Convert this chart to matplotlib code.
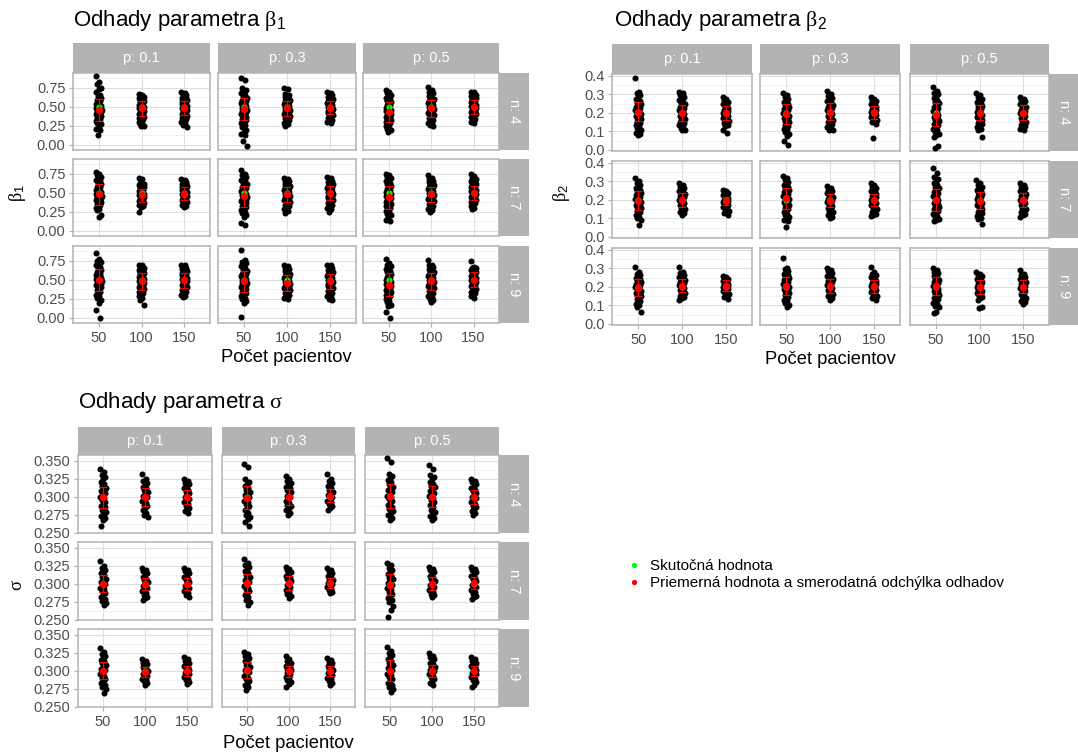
import numpy as np
import matplotlib
matplotlib.use("Agg")
import matplotlib.pyplot as plt
from matplotlib.lines import Line2D
from matplotlib.ticker import FormatStrFormatter

plt.rcParams['font.family'] = ['Liberation Sans', 'DejaVu Sans']
plt.rcParams['mathtext.fontset'] = 'custom'
plt.rcParams['mathtext.rm'] = 'Liberation Serif'
plt.rcParams['mathtext.it'] = 'Liberation Serif:italic'
plt.rcParams['mathtext.sf'] = 'Liberation Sans'

# ---------------------------------------------------------------- data
sizes = ["50", "100", "150"]            # number of patients (x categories)
prob_labels = ["p: 0.1", "p: 0.3", "p: 0.5"]
n_labels = ["n: 4", "n: 7", "n: 9"]

beta1_true = 0.5
beta2_true = 0.2
sigma_true = 0.3

# beta_1 estimates, one tuple per (n, p) panel: (N=50, N=100, N=150)
b1_n4_p1 = ([0.904, 0.83, 0.80, 0.75, 0.73, 0.69, 0.66, 0.64, 0.62, 0.60, 0.585, 0.57, 0.555, 0.54, 0.53, 0.52, 0.51, 0.50, 0.49, 0.48, 0.47, 0.46, 0.45, 0.44, 0.43, 0.42, 0.41, 0.40, 0.39, 0.38, 0.37, 0.355, 0.34, 0.325, 0.31, 0.295, 0.28, 0.27, 0.24, 0.21, 0.19, 0.12],
            [0.67, 0.66, 0.65, 0.63, 0.62, 0.61, 0.60, 0.59, 0.58, 0.57, 0.56, 0.55, 0.54, 0.53, 0.52, 0.51, 0.50, 0.49, 0.48, 0.47, 0.46, 0.45, 0.44, 0.43, 0.42, 0.41, 0.40, 0.39, 0.38, 0.37, 0.36, 0.35, 0.34, 0.32, 0.30, 0.28, 0.27, 0.25, 0.25],
            [0.69, 0.68, 0.66, 0.65, 0.64, 0.62, 0.61, 0.60, 0.59, 0.58, 0.57, 0.56, 0.55, 0.54, 0.53, 0.52, 0.51, 0.50, 0.49, 0.48, 0.47, 0.46, 0.45, 0.44, 0.43, 0.42, 0.41, 0.40, 0.39, 0.38, 0.37, 0.35, 0.34, 0.32, 0.30, 0.28, 0.26, 0.23])
b1_n4_p3 = ([0.877, 0.85, 0.745, 0.72, 0.70, 0.68, 0.66, 0.64, 0.62, 0.60, 0.59, 0.58, 0.56, 0.55, 0.54, 0.52, 0.51, 0.50, 0.49, 0.48, 0.47, 0.46, 0.45, 0.44, 0.43, 0.42, 0.41, 0.40, 0.38, 0.37, 0.36, 0.34, 0.32, 0.30, 0.28, 0.26, 0.23, 0.19, 0.16, 0.14, 0.12, 0.05, -0.02],
            [0.75, 0.73, 0.67, 0.66, 0.64, 0.63, 0.62, 0.60, 0.59, 0.58, 0.57, 0.56, 0.55, 0.54, 0.53, 0.52, 0.51, 0.50, 0.49, 0.48, 0.47, 0.46, 0.45, 0.44, 0.43, 0.42, 0.41, 0.40, 0.39, 0.38, 0.37, 0.35, 0.33, 0.31, 0.29, 0.27, 0.25],
            [0.69, 0.68, 0.67, 0.65, 0.64, 0.63, 0.62, 0.61, 0.60, 0.59, 0.58, 0.57, 0.56, 0.55, 0.54, 0.53, 0.52, 0.51, 0.50, 0.49, 0.48, 0.47, 0.46, 0.45, 0.44, 0.43, 0.42, 0.41, 0.40, 0.39, 0.37, 0.35, 0.33, 0.31, 0.30, 0.28])
b1_n4_p5 = ([0.72, 0.70, 0.68, 0.66, 0.64, 0.62, 0.60, 0.58, 0.56, 0.54, 0.53, 0.52, 0.50, 0.49, 0.48, 0.47, 0.46, 0.45, 0.44, 0.43, 0.42, 0.41, 0.40, 0.39, 0.38, 0.37, 0.36, 0.35, 0.34, 0.33, 0.32, 0.30, 0.28, 0.26, 0.24, 0.22, 0.20, 0.19, 0.17],
            [0.76, 0.72, 0.70, 0.68, 0.66, 0.64, 0.62, 0.61, 0.60, 0.59, 0.58, 0.57, 0.56, 0.55, 0.54, 0.53, 0.52, 0.51, 0.50, 0.49, 0.48, 0.47, 0.46, 0.45, 0.44, 0.43, 0.42, 0.41, 0.40, 0.39, 0.37, 0.35, 0.33, 0.31, 0.29, 0.27, 0.26, 0.24],
            [0.70, 0.69, 0.68, 0.66, 0.65, 0.64, 0.63, 0.62, 0.61, 0.60, 0.59, 0.58, 0.57, 0.56, 0.55, 0.54, 0.53, 0.52, 0.51, 0.50, 0.49, 0.48, 0.47, 0.46, 0.45, 0.44, 0.43, 0.42, 0.41, 0.40, 0.38, 0.36, 0.34, 0.32, 0.30, 0.28])
b1_n7_p1 = ([0.776, 0.75, 0.73, 0.71, 0.69, 0.67, 0.65, 0.63, 0.61, 0.60, 0.58, 0.57, 0.56, 0.54, 0.53, 0.52, 0.51, 0.50, 0.49, 0.48, 0.47, 0.46, 0.45, 0.44, 0.43, 0.42, 0.41, 0.40, 0.39, 0.38, 0.37, 0.35, 0.34, 0.32, 0.30, 0.28, 0.27, 0.20, 0.185],
            [0.70, 0.68, 0.63, 0.62, 0.61, 0.60, 0.59, 0.58, 0.57, 0.56, 0.55, 0.54, 0.53, 0.52, 0.51, 0.50, 0.49, 0.48, 0.47, 0.46, 0.45, 0.44, 0.43, 0.42, 0.41, 0.40, 0.39, 0.38, 0.37, 0.36, 0.35, 0.34, 0.33, 0.31, 0.24],
            [0.68, 0.67, 0.66, 0.64, 0.63, 0.62, 0.61, 0.60, 0.59, 0.58, 0.57, 0.56, 0.55, 0.54, 0.53, 0.52, 0.51, 0.50, 0.49, 0.48, 0.47, 0.46, 0.45, 0.44, 0.43, 0.42, 0.41, 0.40, 0.39, 0.38, 0.36, 0.34, 0.32, 0.31])
b1_n7_p3 = ([0.80, 0.75, 0.73, 0.71, 0.69, 0.67, 0.65, 0.63, 0.61, 0.59, 0.57, 0.56, 0.54, 0.53, 0.51, 0.50, 0.49, 0.48, 0.47, 0.46, 0.45, 0.44, 0.43, 0.42, 0.41, 0.40, 0.39, 0.38, 0.37, 0.36, 0.34, 0.33, 0.31, 0.29, 0.27, 0.25, 0.23, 0.21, 0.18, 0.10, 0.075],
            [0.69, 0.68, 0.66, 0.65, 0.64, 0.62, 0.61, 0.60, 0.59, 0.58, 0.57, 0.56, 0.55, 0.54, 0.53, 0.52, 0.51, 0.50, 0.49, 0.48, 0.47, 0.46, 0.45, 0.44, 0.43, 0.42, 0.41, 0.40, 0.39, 0.38, 0.36, 0.34, 0.32, 0.30, 0.28, 0.26, 0.23],
            [0.71, 0.69, 0.68, 0.66, 0.65, 0.64, 0.63, 0.62, 0.61, 0.60, 0.59, 0.58, 0.57, 0.56, 0.55, 0.54, 0.53, 0.52, 0.51, 0.50, 0.49, 0.48, 0.47, 0.46, 0.45, 0.44, 0.43, 0.42, 0.41, 0.40, 0.38, 0.36, 0.34, 0.32, 0.30, 0.28, 0.25])
b1_n7_p5 = ([0.75, 0.73, 0.71, 0.69, 0.67, 0.65, 0.63, 0.61, 0.59, 0.57, 0.55, 0.54, 0.52, 0.51, 0.50, 0.49, 0.48, 0.47, 0.46, 0.45, 0.44, 0.43, 0.42, 0.41, 0.40, 0.39, 0.38, 0.37, 0.36, 0.35, 0.33, 0.32, 0.30, 0.28, 0.26, 0.24, 0.22, 0.20, 0.18, 0.14, 0.12],
            [0.73, 0.69, 0.68, 0.66, 0.65, 0.64, 0.62, 0.61, 0.60, 0.59, 0.58, 0.57, 0.56, 0.55, 0.54, 0.53, 0.52, 0.51, 0.50, 0.49, 0.48, 0.47, 0.46, 0.45, 0.44, 0.43, 0.42, 0.41, 0.40, 0.39, 0.37, 0.35, 0.33, 0.31, 0.29, 0.27, 0.25],
            [0.75, 0.72, 0.69, 0.68, 0.67, 0.65, 0.64, 0.63, 0.62, 0.61, 0.60, 0.59, 0.58, 0.57, 0.56, 0.55, 0.54, 0.53, 0.52, 0.51, 0.50, 0.49, 0.48, 0.47, 0.46, 0.45, 0.44, 0.43, 0.42, 0.41, 0.40, 0.38, 0.36, 0.34, 0.32, 0.30, 0.29])
b1_n9_p1 = ([0.853, 0.77, 0.75, 0.73, 0.71, 0.69, 0.67, 0.65, 0.63, 0.61, 0.60, 0.58, 0.57, 0.56, 0.55, 0.54, 0.53, 0.52, 0.51, 0.50, 0.49, 0.48, 0.47, 0.46, 0.45, 0.44, 0.43, 0.42, 0.41, 0.40, 0.38, 0.36, 0.34, 0.32, 0.30, 0.28, 0.26, 0.23, 0.19, 0.10, 0.0],
            [0.70, 0.69, 0.67, 0.66, 0.64, 0.63, 0.62, 0.60, 0.59, 0.58, 0.57, 0.56, 0.55, 0.54, 0.53, 0.52, 0.51, 0.50, 0.49, 0.48, 0.47, 0.46, 0.45, 0.44, 0.43, 0.42, 0.41, 0.40, 0.39, 0.38, 0.36, 0.34, 0.32, 0.30, 0.28, 0.26, 0.23, 0.16],
            [0.70, 0.69, 0.67, 0.66, 0.65, 0.64, 0.63, 0.62, 0.61, 0.60, 0.59, 0.58, 0.57, 0.56, 0.55, 0.54, 0.53, 0.52, 0.51, 0.50, 0.49, 0.48, 0.47, 0.46, 0.45, 0.44, 0.43, 0.42, 0.41, 0.40, 0.38, 0.36, 0.34, 0.32, 0.30, 0.28, 0.27])
b1_n9_p3 = ([0.895, 0.76, 0.74, 0.72, 0.70, 0.68, 0.66, 0.64, 0.62, 0.60, 0.58, 0.57, 0.56, 0.55, 0.53, 0.52, 0.51, 0.50, 0.49, 0.48, 0.47, 0.46, 0.45, 0.44, 0.43, 0.42, 0.41, 0.40, 0.39, 0.38, 0.36, 0.34, 0.32, 0.30, 0.28, 0.26, 0.24, 0.22, 0.19, 0.01],
            [0.70, 0.68, 0.66, 0.64, 0.63, 0.61, 0.60, 0.58, 0.57, 0.56, 0.55, 0.54, 0.53, 0.52, 0.51, 0.50, 0.49, 0.48, 0.47, 0.46, 0.45, 0.44, 0.43, 0.42, 0.41, 0.40, 0.39, 0.38, 0.37, 0.36, 0.34, 0.32, 0.30, 0.28, 0.26, 0.24],
            [0.70, 0.69, 0.67, 0.66, 0.64, 0.63, 0.62, 0.61, 0.60, 0.59, 0.58, 0.57, 0.56, 0.55, 0.54, 0.53, 0.52, 0.51, 0.50, 0.49, 0.48, 0.47, 0.46, 0.45, 0.44, 0.43, 0.42, 0.41, 0.40, 0.39, 0.37, 0.35, 0.33, 0.31, 0.29, 0.27, 0.25, 0.23])
b1_n9_p5 = ([0.776, 0.72, 0.70, 0.68, 0.66, 0.64, 0.62, 0.60, 0.58, 0.56, 0.54, 0.53, 0.51, 0.50, 0.49, 0.48, 0.47, 0.46, 0.45, 0.44, 0.43, 0.42, 0.41, 0.40, 0.39, 0.38, 0.37, 0.36, 0.35, 0.34, 0.32, 0.30, 0.28, 0.26, 0.24, 0.22, 0.20, 0.17, 0.15, 0.08, -0.005],
            [0.76, 0.70, 0.69, 0.67, 0.66, 0.64, 0.63, 0.62, 0.60, 0.59, 0.58, 0.57, 0.56, 0.55, 0.54, 0.53, 0.52, 0.51, 0.50, 0.49, 0.48, 0.47, 0.46, 0.45, 0.44, 0.43, 0.42, 0.41, 0.40, 0.39, 0.37, 0.35, 0.33, 0.31, 0.29, 0.27, 0.25, 0.23, 0.21],
            [0.75, 0.675, 0.66, 0.65, 0.64, 0.63, 0.62, 0.61, 0.60, 0.59, 0.58, 0.57, 0.56, 0.55, 0.54, 0.53, 0.52, 0.51, 0.50, 0.49, 0.48, 0.47, 0.46, 0.45, 0.44, 0.43, 0.42, 0.41, 0.40, 0.38, 0.36, 0.34, 0.32, 0.30, 0.28, 0.26])

# beta_2 estimates
b2_n4_p1 = ([0.389, 0.315, 0.305, 0.295, 0.285, 0.275, 0.265, 0.255, 0.248, 0.241, 0.234, 0.227, 0.22, 0.214, 0.208, 0.202, 0.196, 0.19, 0.184, 0.178, 0.172, 0.166, 0.16, 0.153, 0.146, 0.139, 0.132, 0.124, 0.116, 0.108, 0.10, 0.092, 0.087, 0.078],
            [0.315, 0.305, 0.295, 0.285, 0.276, 0.268, 0.26, 0.253, 0.246, 0.239, 0.232, 0.226, 0.22, 0.214, 0.208, 0.202, 0.196, 0.19, 0.184, 0.178, 0.172, 0.166, 0.16, 0.153, 0.146, 0.139, 0.132, 0.124, 0.116, 0.11, 0.105],
            [0.285, 0.275, 0.267, 0.26, 0.253, 0.246, 0.24, 0.234, 0.228, 0.222, 0.216, 0.21, 0.205, 0.2, 0.195, 0.19, 0.185, 0.18, 0.174, 0.168, 0.162, 0.156, 0.15, 0.143, 0.136, 0.13, 0.105, 0.09])
b2_n4_p3 = ([0.31, 0.294, 0.284, 0.274, 0.265, 0.257, 0.249, 0.241, 0.234, 0.227, 0.22, 0.213, 0.207, 0.201, 0.195, 0.189, 0.183, 0.177, 0.171, 0.165, 0.158, 0.151, 0.144, 0.137, 0.13, 0.122, 0.114, 0.106, 0.097, 0.088, 0.077, 0.05, 0.027],
            [0.32, 0.30, 0.29, 0.281, 0.273, 0.265, 0.258, 0.251, 0.244, 0.237, 0.231, 0.225, 0.219, 0.213, 0.207, 0.201, 0.195, 0.189, 0.183, 0.177, 0.171, 0.164, 0.157, 0.15, 0.142, 0.134, 0.126, 0.118, 0.11, 0.105],
            [0.285, 0.277, 0.27, 0.263, 0.256, 0.25, 0.244, 0.238, 0.232, 0.226, 0.22, 0.215, 0.21, 0.205, 0.2, 0.195, 0.19, 0.185, 0.179, 0.173, 0.167, 0.161, 0.155, 0.148, 0.14, 0.065])
b2_n4_p5 = ([0.34, 0.32, 0.31, 0.30, 0.29, 0.28, 0.27, 0.26, 0.251, 0.242, 0.234, 0.226, 0.218, 0.211, 0.204, 0.197, 0.19, 0.183, 0.176, 0.169, 0.162, 0.155, 0.148, 0.14, 0.132, 0.124, 0.115, 0.106, 0.097, 0.088, 0.079, 0.07, 0.023, 0.012],
            [0.305, 0.295, 0.285, 0.276, 0.268, 0.26, 0.252, 0.245, 0.238, 0.231, 0.225, 0.219, 0.213, 0.207, 0.201, 0.195, 0.189, 0.183, 0.177, 0.171, 0.165, 0.159, 0.152, 0.145, 0.138, 0.13, 0.122, 0.114, 0.105, 0.07],
            [0.285, 0.277, 0.269, 0.262, 0.255, 0.248, 0.242, 0.236, 0.23, 0.224, 0.218, 0.212, 0.206, 0.2, 0.194, 0.188, 0.182, 0.176, 0.17, 0.164, 0.158, 0.151, 0.144, 0.137, 0.13, 0.122, 0.114, 0.105])
b2_n7_p1 = ([0.316, 0.30, 0.29, 0.28, 0.271, 0.262, 0.254, 0.246, 0.238, 0.231, 0.224, 0.217, 0.21, 0.204, 0.198, 0.192, 0.186, 0.18, 0.174, 0.168, 0.161, 0.154, 0.147, 0.14, 0.132, 0.124, 0.116, 0.108, 0.1, 0.093, 0.066],
            [0.29, 0.28, 0.272, 0.264, 0.257, 0.25, 0.243, 0.237, 0.231, 0.225, 0.219, 0.213, 0.207, 0.201, 0.195, 0.189, 0.183, 0.177, 0.171, 0.165, 0.158, 0.151, 0.144, 0.136, 0.128, 0.12],
            [0.254, 0.248, 0.242, 0.236, 0.231, 0.226, 0.221, 0.216, 0.211, 0.206, 0.201, 0.196, 0.191, 0.186, 0.181, 0.176, 0.171, 0.166, 0.16, 0.154, 0.148, 0.141, 0.134, 0.127, 0.12])
b2_n7_p3 = ([0.33, 0.316, 0.306, 0.297, 0.288, 0.279, 0.271, 0.263, 0.255, 0.248, 0.241, 0.234, 0.227, 0.221, 0.215, 0.209, 0.203, 0.197, 0.191, 0.185, 0.179, 0.172, 0.165, 0.158, 0.15, 0.142, 0.134, 0.125, 0.116, 0.107, 0.098, 0.09, 0.084, 0.052],
            [0.275, 0.262, 0.255, 0.248, 0.241, 0.235, 0.229, 0.223, 0.217, 0.211, 0.205, 0.199, 0.193, 0.187, 0.181, 0.175, 0.169, 0.163, 0.156, 0.149, 0.141, 0.133, 0.125, 0.117, 0.108, 0.10],
            [0.293, 0.28, 0.272, 0.264, 0.257, 0.25, 0.243, 0.237, 0.231, 0.225, 0.219, 0.213, 0.207, 0.201, 0.195, 0.189, 0.183, 0.177, 0.171, 0.164, 0.157, 0.15, 0.142, 0.134, 0.126, 0.118, 0.114])
b2_n7_p5 = ([0.37, 0.343, 0.325, 0.314, 0.303, 0.292, 0.282, 0.272, 0.262, 0.253, 0.244, 0.236, 0.228, 0.22, 0.213, 0.206, 0.199, 0.192, 0.185, 0.178, 0.171, 0.164, 0.157, 0.149, 0.141, 0.133, 0.124, 0.115, 0.106, 0.097, 0.09, 0.084],
            [0.31, 0.29, 0.281, 0.272, 0.264, 0.256, 0.248, 0.241, 0.234, 0.227, 0.22, 0.214, 0.208, 0.202, 0.196, 0.19, 0.184, 0.178, 0.172, 0.166, 0.159, 0.152, 0.145, 0.137, 0.129, 0.121, 0.113, 0.104, 0.096, 0.07],
            [0.29, 0.28, 0.272, 0.264, 0.257, 0.25, 0.243, 0.237, 0.231, 0.225, 0.219, 0.213, 0.207, 0.201, 0.195, 0.189, 0.183, 0.177, 0.171, 0.164, 0.157, 0.15, 0.142, 0.134, 0.126, 0.118, 0.11])
b2_n9_p1 = ([0.307, 0.28, 0.272, 0.264, 0.256, 0.249, 0.242, 0.235, 0.228, 0.222, 0.216, 0.21, 0.204, 0.198, 0.192, 0.186, 0.18, 0.174, 0.168, 0.162, 0.155, 0.148, 0.141, 0.133, 0.125, 0.117, 0.109, 0.101, 0.093, 0.066],
            [0.31, 0.28, 0.273, 0.266, 0.259, 0.253, 0.247, 0.241, 0.235, 0.229, 0.224, 0.219, 0.214, 0.209, 0.204, 0.199, 0.194, 0.189, 0.184, 0.178, 0.172, 0.166, 0.16, 0.153, 0.146, 0.138, 0.13],
            [0.257, 0.251, 0.246, 0.241, 0.236, 0.231, 0.226, 0.222, 0.218, 0.214, 0.21, 0.206, 0.202, 0.198, 0.194, 0.19, 0.186, 0.181, 0.176, 0.171, 0.165, 0.159, 0.152, 0.145, 0.137])
b2_n9_p3 = ([0.355, 0.304, 0.295, 0.286, 0.278, 0.27, 0.262, 0.255, 0.248, 0.241, 0.235, 0.229, 0.223, 0.217, 0.211, 0.205, 0.199, 0.193, 0.187, 0.181, 0.175, 0.168, 0.161, 0.154, 0.146, 0.138, 0.13, 0.121, 0.112, 0.103, 0.093],
            [0.30, 0.292, 0.284, 0.276, 0.268, 0.261, 0.254, 0.248, 0.242, 0.236, 0.23, 0.224, 0.218, 0.212, 0.206, 0.2, 0.194, 0.188, 0.182, 0.176, 0.17, 0.163, 0.156, 0.148, 0.14, 0.13],
            [0.31, 0.28, 0.272, 0.265, 0.258, 0.251, 0.245, 0.239, 0.233, 0.227, 0.221, 0.215, 0.209, 0.203, 0.197, 0.191, 0.185, 0.179, 0.173, 0.166, 0.159, 0.152, 0.145, 0.138, 0.13])
b2_n9_p5 = ([0.30, 0.29, 0.282, 0.274, 0.266, 0.258, 0.251, 0.244, 0.237, 0.231, 0.225, 0.219, 0.213, 0.207, 0.201, 0.195, 0.189, 0.183, 0.177, 0.17, 0.163, 0.156, 0.148, 0.14, 0.132, 0.123, 0.114, 0.105, 0.097, 0.093, 0.066, 0.057],
            [0.28, 0.272, 0.265, 0.258, 0.251, 0.245, 0.239, 0.233, 0.227, 0.221, 0.215, 0.209, 0.203, 0.197, 0.191, 0.185, 0.179, 0.173, 0.167, 0.16, 0.153, 0.146, 0.138, 0.13, 0.093, 0.088],
            [0.29, 0.27, 0.263, 0.256, 0.249, 0.243, 0.237, 0.231, 0.225, 0.219, 0.213, 0.207, 0.201, 0.195, 0.189, 0.183, 0.177, 0.171, 0.164, 0.157, 0.15, 0.142, 0.134, 0.126, 0.118, 0.11])

# sigma estimates
s_n4_p1 = ([0.338, 0.335, 0.33, 0.327, 0.324, 0.321, 0.318, 0.315, 0.3125, 0.31, 0.3075, 0.305, 0.3025, 0.30, 0.2975, 0.295, 0.2925, 0.29, 0.2875, 0.285, 0.282, 0.279, 0.276, 0.273, 0.27, 0.268, 0.2586],
           [0.331, 0.325, 0.322, 0.319, 0.3165, 0.314, 0.3115, 0.309, 0.3065, 0.304, 0.3015, 0.299, 0.2965, 0.294, 0.2915, 0.289, 0.2865, 0.284, 0.281, 0.278, 0.275, 0.272],
           [0.325, 0.322, 0.3195, 0.317, 0.3145, 0.312, 0.3095, 0.307, 0.3045, 0.302, 0.2995, 0.297, 0.2945, 0.292, 0.2895, 0.287, 0.2845, 0.282, 0.2795, 0.277])
s_n4_p3 = ([0.346, 0.341, 0.324, 0.321, 0.318, 0.315, 0.312, 0.3095, 0.307, 0.3045, 0.302, 0.2995, 0.297, 0.2945, 0.292, 0.2895, 0.287, 0.284, 0.281, 0.278, 0.275, 0.272, 0.269, 0.265, 0.2586],
           [0.329, 0.325, 0.322, 0.319, 0.3165, 0.314, 0.3115, 0.309, 0.3065, 0.304, 0.3015, 0.299, 0.2965, 0.294, 0.2915, 0.289, 0.2865, 0.284, 0.281, 0.278, 0.275],
           [0.332, 0.325, 0.322, 0.3195, 0.317, 0.3145, 0.312, 0.3095, 0.307, 0.3045, 0.302, 0.2995, 0.297, 0.2945, 0.292, 0.2895, 0.287, 0.2845, 0.282])
s_n4_p5 = ([0.354, 0.348, 0.332, 0.329, 0.326, 0.323, 0.32, 0.317, 0.314, 0.3115, 0.309, 0.3065, 0.304, 0.3015, 0.299, 0.2965, 0.294, 0.2915, 0.289, 0.286, 0.283, 0.28, 0.277, 0.274, 0.271, 0.268],
           [0.344, 0.339, 0.33, 0.327, 0.324, 0.321, 0.318, 0.3155, 0.313, 0.3105, 0.308, 0.3055, 0.303, 0.3005, 0.298, 0.2955, 0.293, 0.2905, 0.288, 0.285, 0.282, 0.279, 0.276, 0.273, 0.27, 0.268],
           [0.325, 0.3225, 0.32, 0.3175, 0.315, 0.3125, 0.31, 0.3075, 0.305, 0.3025, 0.30, 0.2975, 0.295, 0.2925, 0.29, 0.2875, 0.285, 0.2825, 0.28, 0.2775, 0.275])
s_n7_p1 = ([0.3316, 0.3245, 0.322, 0.3195, 0.317, 0.3145, 0.312, 0.3095, 0.307, 0.3045, 0.302, 0.2995, 0.297, 0.2945, 0.292, 0.2895, 0.287, 0.2845, 0.282, 0.279, 0.276, 0.2726, 0.27],
           [0.322, 0.3195, 0.317, 0.3145, 0.312, 0.3095, 0.307, 0.3045, 0.302, 0.2995, 0.297, 0.2945, 0.292, 0.2895, 0.287, 0.2845, 0.282, 0.2795, 0.277],
           [0.322, 0.3195, 0.317, 0.3145, 0.312, 0.3095, 0.307, 0.3045, 0.302, 0.2995, 0.297, 0.2945, 0.292, 0.2895, 0.287, 0.2845, 0.282])
s_n7_p3 = ([0.334, 0.329, 0.326, 0.323, 0.32, 0.317, 0.3145, 0.312, 0.3095, 0.307, 0.3045, 0.302, 0.2995, 0.297, 0.2945, 0.292, 0.2895, 0.287, 0.284, 0.281, 0.278, 0.275, 0.271],
           [0.3236, 0.321, 0.3185, 0.316, 0.3135, 0.311, 0.3085, 0.306, 0.3035, 0.301, 0.2985, 0.296, 0.2935, 0.291, 0.2885, 0.286, 0.283, 0.28],
           [0.322, 0.3195, 0.317, 0.315, 0.313, 0.311, 0.309, 0.307, 0.305, 0.303, 0.301, 0.299, 0.297, 0.295, 0.293, 0.291, 0.289, 0.287])
s_n7_p5 = ([0.329, 0.3255, 0.3225, 0.3195, 0.3165, 0.3135, 0.311, 0.3085, 0.306, 0.3035, 0.301, 0.2985, 0.296, 0.2935, 0.291, 0.2885, 0.286, 0.283, 0.28, 0.277, 0.275, 0.269, 0.264, 0.254],
           [0.3236, 0.321, 0.3185, 0.316, 0.3135, 0.311, 0.3085, 0.306, 0.3035, 0.301, 0.2985, 0.296, 0.2935, 0.291, 0.2885, 0.286, 0.284, 0.282],
           [0.3236, 0.321, 0.3185, 0.316, 0.3135, 0.311, 0.3085, 0.306, 0.3035, 0.301, 0.2985, 0.296, 0.2935, 0.291, 0.2885, 0.286, 0.2835, 0.281, 0.279])
s_n9_p1 = ([0.331, 0.3256, 0.323, 0.3205, 0.318, 0.3155, 0.313, 0.3105, 0.308, 0.3055, 0.303, 0.3005, 0.298, 0.2955, 0.293, 0.2905, 0.288, 0.2855, 0.283, 0.28, 0.277, 0.274, 0.2686],
           [0.316, 0.3135, 0.311, 0.309, 0.307, 0.305, 0.303, 0.301, 0.299, 0.297, 0.295, 0.293, 0.291, 0.289, 0.287, 0.285, 0.2825, 0.28],
           [0.319, 0.316, 0.3135, 0.311, 0.309, 0.307, 0.305, 0.303, 0.301, 0.299, 0.297, 0.295, 0.293, 0.291, 0.289, 0.287, 0.2845, 0.282])
s_n9_p3 = ([0.3256, 0.323, 0.3205, 0.318, 0.3155, 0.313, 0.3105, 0.308, 0.3055, 0.303, 0.3005, 0.298, 0.2955, 0.293, 0.2905, 0.288, 0.285, 0.282, 0.2795, 0.277, 0.2725],
           [0.321, 0.316, 0.3135, 0.311, 0.309, 0.307, 0.305, 0.303, 0.301, 0.299, 0.297, 0.295, 0.293, 0.291, 0.289, 0.287, 0.2845, 0.282, 0.277],
           [0.3174, 0.315, 0.3125, 0.3105, 0.3085, 0.3065, 0.3045, 0.3025, 0.3005, 0.2985, 0.2965, 0.2945, 0.2925, 0.2905, 0.2885, 0.286, 0.283, 0.28])
s_n9_p5 = ([0.333, 0.328, 0.325, 0.322, 0.319, 0.316, 0.3135, 0.311, 0.3085, 0.306, 0.3035, 0.301, 0.2985, 0.296, 0.2935, 0.291, 0.2885, 0.286, 0.283, 0.28, 0.277, 0.274, 0.27],
           [0.324, 0.321, 0.3185, 0.316, 0.3135, 0.311, 0.309, 0.307, 0.305, 0.303, 0.301, 0.299, 0.297, 0.295, 0.293, 0.291, 0.2885, 0.286, 0.283, 0.28],
           [0.319, 0.316, 0.3135, 0.311, 0.309, 0.307, 0.305, 0.303, 0.301, 0.299, 0.297, 0.295, 0.293, 0.291, 0.289, 0.2865, 0.284, 0.28, 0.277])

# mean and standard deviation of the estimates, rows n = 4, 7, 9; each row p = 0.1, 0.3, 0.5; each cell N = 50, 100, 150
b1_mean = [[[0.457, 0.483, 0.483], [0.470, 0.478, 0.490], [0.434, 0.478, 0.500]],
           [[0.478, 0.465, 0.487], [0.456, 0.478, 0.500], [0.440, 0.478, 0.500]],
           [[0.496, 0.478, 0.496], [0.478, 0.456, 0.478], [0.434, 0.478, 0.500]]]
b1_sd = [[[0.150, 0.100, 0.090], [0.140, 0.100, 0.080], [0.130, 0.110, 0.090]],
         [[0.135, 0.090, 0.085], [0.140, 0.095, 0.090], [0.150, 0.105, 0.090]],
         [[0.150, 0.110, 0.100], [0.140, 0.105, 0.100], [0.150, 0.110, 0.100]]]
b2_mean = [[[0.207, 0.200, 0.200], [0.195, 0.207, 0.204], [0.190, 0.200, 0.200]],
           [[0.196, 0.200, 0.196], [0.209, 0.196, 0.200], [0.200, 0.196, 0.200]],
           [[0.195, 0.205, 0.205], [0.204, 0.204, 0.204], [0.204, 0.200, 0.200]]]
b2_sd = [[[0.053, 0.043, 0.038], [0.055, 0.045, 0.035], [0.063, 0.040, 0.040]],
         [[0.050, 0.038, 0.022], [0.057, 0.035, 0.033], [0.058, 0.045, 0.036]],
         [[0.045, 0.035, 0.030], [0.047, 0.037, 0.035], [0.048, 0.038, 0.035]]]
s_mean = [[[0.2990, 0.3000, 0.3000], [0.2986, 0.3000, 0.3014], [0.3010, 0.3000, 0.3000]],
          [[0.3000, 0.3000, 0.3000], [0.3010, 0.3010, 0.3010], [0.2986, 0.3000, 0.3010]],
          [[0.3000, 0.2980, 0.3000], [0.3014, 0.2990, 0.3000], [0.3000, 0.3000, 0.3000]]]
s_sd = [[[0.0150, 0.0125, 0.0100], [0.0160, 0.0110, 0.0090], [0.0170, 0.0147, 0.0100]],
        [[0.0120, 0.0085, 0.0085], [0.0130, 0.0094, 0.0070], [0.0146, 0.0094, 0.0090]],
        [[0.0120, 0.0068, 0.0072], [0.0113, 0.0077, 0.0072], [0.0145, 0.0085, 0.0070]]]

# ---------------------------------------------------------------- layout
W, H, DPI = 1078, 753, 100
fig = plt.figure(figsize=(W / DPI, H / DPI), dpi=DPI)
fig.patch.set_facecolor("white")

STRIP = "#B3B3B3"
GRID = "#DEDEDE"
GRID_MINOR = "#EFEFEF"
TICK_TXT = "#4D4D4D"
JITTER = ((np.arange(60) * 0.6180339887) % 1.0) * 2.0 - 1.0
JIT_W = 0.07


def px_axes(x0, x1, y0, y1):
    return fig.add_axes([x0 / W, 1 - y1 / H, (x1 - x0) / W, (y1 - y0) / H])


def draw_group(panels, means, sds, truth, ylim, majors, minors, fmt,
               cols, rows, strip_y, rstrip, title, title_xy, ylabel, ylabel_xy, xlabel_y):
    for ci, (cx0, cx1) in enumerate(cols):
        sa = px_axes(cx0, cx1, strip_y[0], strip_y[1])
        sa.set_facecolor(STRIP)
        sa.set_xticks([]); sa.set_yticks([])
        for s in sa.spines.values():
            s.set_visible(False)
        sa.text(0.5, 0.5, prob_labels[ci], color="white", fontsize=10.5,
                ha="center", va="center", transform=sa.transAxes)
    for ri, (ry0, ry1) in enumerate(rows):
        sa = px_axes(rstrip[0], rstrip[1], ry0, ry1)
        sa.set_facecolor(STRIP)
        sa.set_xticks([]); sa.set_yticks([])
        for s in sa.spines.values():
            s.set_visible(False)
        sa.text(0.5, 0.5, n_labels[ri], color="white", fontsize=10.5, rotation=-90,
                ha="center", va="center", transform=sa.transAxes)
        for ci, (cx0, cx1) in enumerate(cols):
            ax = px_axes(cx0, cx1, ry0, ry1)
            ax.set_xlim(0.4, 3.6)
            ax.set_ylim(*ylim)
            ax.set_xticks([1, 2, 3])
            ax.set_xticklabels(sizes)
            ax.set_yticks(majors)
            ax.set_yticks(minors, minor=True)
            ax.yaxis.set_major_formatter(FormatStrFormatter(fmt))
            ax.set_axisbelow(True)
            ax.grid(which="major", color=GRID, lw=0.8)
            ax.grid(which="minor", axis="y", color=GRID_MINOR, lw=0.6)
            for s in ax.spines.values():
                s.set_color(STRIP)
                s.set_linewidth(1.1)
            ax.tick_params(which="major", color=STRIP, length=3.2, width=0.9,
                           labelcolor=TICK_TXT, labelsize=10.5, pad=2.2)
            ax.tick_params(which="minor", length=0)
            if ri != len(rows) - 1:
                ax.tick_params(axis="x", length=0, labelbottom=False)
            if ci != 0:
                ax.tick_params(axis="y", length=0, labelleft=False)

            clouds = panels[ri][ci]
            for k, vals in enumerate(clouds):
                xs = (k + 1) + JITTER[:len(vals)] * JIT_W
                ax.scatter(xs, vals, s=19, c="black", linewidths=0, zorder=3)
            xpos = np.arange(1, 4)
            ax.scatter(xpos, [truth] * 3, s=20, c="#00FF00", linewidths=0, zorder=4)
            ax.errorbar(xpos, means[ri][ci], yerr=sds[ri][ci], fmt="none",
                        ecolor="red", elinewidth=0.9, capsize=3.2, capthick=0.9, zorder=5)
            ax.scatter(xpos, means[ri][ci], s=28, c="red", linewidths=0, zorder=6)

    fig.text(title_xy[0] / W, 1 - title_xy[1] / H, title, fontsize=16,
             ha="left", va="baseline")
    fig.text(ylabel_xy[0] / W, 1 - ylabel_xy[1] / H, ylabel, fontsize=13.2,
             rotation=90, ha="center", va="center")
    xc = (cols[0][0] + cols[-1][1]) / 2
    fig.text(xc / W, 1 - xlabel_y / H, "Počet pacientov", fontsize=13.2,
             ha="center", va="center")


beta1_panels = [[b1_n4_p1, b1_n4_p3, b1_n4_p5],
                [b1_n7_p1, b1_n7_p3, b1_n7_p5],
                [b1_n9_p1, b1_n9_p3, b1_n9_p5]]
beta2_panels = [[b2_n4_p1, b2_n4_p3, b2_n4_p5],
                [b2_n7_p1, b2_n7_p3, b2_n7_p5],
                [b2_n9_p1, b2_n9_p3, b2_n9_p5]]
sigma_panels = [[s_n4_p1, s_n4_p3, s_n4_p5],
                [s_n7_p1, s_n7_p3, s_n7_p5],
                [s_n9_p1, s_n9_p3, s_n9_p5]]

draw_group(beta1_panels, b1_mean, b1_sd, beta1_true,
           (-0.072, 0.947), [0.0, 0.25, 0.5, 0.75], [0.125, 0.375, 0.625, 0.875], "%.2f",
           cols=[(73, 210), (218, 356), (363, 499)],
           rows=[(73, 150), (159, 236), (246, 323)],
           strip_y=(43, 73), rstrip=(499, 529),
           title=r"Odhady parametra $\mathrm{\beta}_{\mathsf{1}}$", title_xy=(73, 26),
           ylabel=r"$\mathrm{\beta}_{\mathsf{1}}$", ylabel_xy=(17, 193), xlabel_y=358)

draw_group(beta2_panels, b2_mean, b2_sd, beta2_true,
           (-0.006, 0.41), [0.0, 0.1, 0.2, 0.3, 0.4], [0.05, 0.15, 0.25, 0.35], "%.1f",
           cols=[(612, 752), (760, 900), (910, 1049)],
           rows=[(74, 151), (161, 238), (248, 325)],
           strip_y=(44, 74), rstrip=(1049, 1078),
           title=r"Odhady parametra $\mathrm{\beta}_{\mathsf{2}}$", title_xy=(614, 26),
           ylabel=r"$\mathrm{\beta}_{\mathsf{2}}$", ylabel_xy=(562, 193), xlabel_y=360)

draw_group(sigma_panels, s_mean, s_sd, sigma_true,
           (0.2495, 0.358), [0.25, 0.275, 0.3, 0.325, 0.35], [0.2625, 0.2875, 0.3125, 0.3375], "%.3f",
           cols=[(78, 212), (222, 355), (365, 499)],
           rows=[(455, 533), (542, 620), (629, 707)],
           strip_y=(427, 455), rstrip=(499, 529),
           title=r"Odhady parametra $\mathrm{\sigma}$", title_xy=(78, 408),
           ylabel=r"$\mathrm{\sigma}$", ylabel_xy=(18, 585), xlabel_y=744)

# legend
handles = [Line2D([], [], ls="none", marker="o", ms=3.8, mfc="#00FF00", mec="none"),
           Line2D([], [], ls="none", marker="o", ms=3.8, mfc="red", mec="none")]
fig.legend(handles, ["Skutočná hodnota", "Priemerná hodnota a smerodatná odchýlka odhadov"],
           loc="upper left", bbox_to_anchor=(626 / W, 1 - 559 / H), frameon=False,
           fontsize=11, handlelength=1.0, handletextpad=0.55, labelspacing=0.2,
           borderpad=0, borderaxespad=0)

fig.savefig("out.png", dpi=DPI, facecolor="white")
